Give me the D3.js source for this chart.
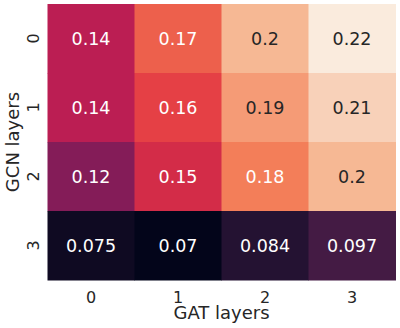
<!DOCTYPE html>
<html>
<head>
<meta charset="utf-8">
<script src="https://cdn.jsdelivr.net/npm/d3@7"></script>
<style>
  body { margin: 0; background: #fff; }
  text { font-family: "DejaVu Sans", sans-serif; }
</style>
</head>
<body>
<div id="chart"></div>
<script>
// heatmap of scores, GCN layers (rows) x GAT layers (cols)
var gatLayers = ["0", "1", "2", "3"];
var gcnLayers = ["0", "1", "2", "3"];
var row0 = [0.14, 0.17, 0.2, 0.22];
var row1 = [0.14, 0.16, 0.19, 0.21];
var row2 = [0.12, 0.15, 0.18, 0.2];
var row3 = [0.075, 0.07, 0.084, 0.097];
var rows = [row0, row1, row2, row3];

// seaborn "rocket" colormap stops
var rocket = ["#03051a", "#35193e", "#701f57", "#ad1759", "#e13342", "#f37651", "#f6b48f", "#faebdd"];

var width = 400, height = 328;
var margin = {top: 4, right: 4.5, bottom: 48, left: 47.5};

var svg = d3.select("#chart")
  .append("svg")
    .attr("width", width)
    .attr("height", height);

var x = d3.scaleBand()
    .domain(gatLayers)
    .range([margin.left, width - margin.right]);
var y = d3.scaleBand()
    .domain(gcnLayers)
    .range([margin.top, height - margin.bottom]);

var cells = [];
rows.forEach(function(r, i) {
  r.forEach(function(v, j) {
    cells.push({row: gcnLayers[i], col: gatLayers[j], value: v});
  });
});

var vmin = d3.min(cells, d => d.value), vmax = d3.max(cells, d => d.value);
var color = d3.scaleLinear()
    .domain(d3.range(rocket.length).map(i => vmin + (vmax - vmin) * i / (rocket.length - 1)))
    .range(rocket)
    .interpolate(d3.interpolateRgb);

// text colour like seaborn: dark on light cells
function lum(c) {
  var rgb = d3.rgb(c);
  var f = v => { v = v / 255; return v <= 0.03928 ? v / 12.92 : Math.pow((v + 0.055) / 1.055, 2.4); };
  return 0.2126 * f(rgb.r) + 0.7152 * f(rgb.g) + 0.0722 * f(rgb.b);
}

svg.selectAll(".cell")
    .data(cells)
  .enter().append("rect")
    .attr("class", "cell")
    .attr("x", d => x(d.col))
    .attr("y", d => y(d.row))
    .attr("width", x.bandwidth() + 0.5)
    .attr("height", y.bandwidth() + 0.5)
    .attr("fill", d => color(d.value));

svg.selectAll(".annot")
    .data(cells)
  .enter().append("text")
    .attr("class", "annot")
    .attr("x", d => x(d.col) + x.bandwidth() / 2)
    .attr("y", d => y(d.row) + y.bandwidth() / 2)
    .attr("dy", "0.36em")
    .attr("text-anchor", "middle")
    .style("font-size", "17.5px")
    .attr("fill", d => lum(color(d.value)) > 0.408 ? "#262626" : "#ffffff")
    .text(d => d3.format(".2~g")(d.value));

// x axis
var xAxis = svg.append("g")
    .attr("transform", "translate(0," + (height - margin.bottom) + ")")
    .call(d3.axisBottom(x).tickSize(0).tickPadding(12));
xAxis.select(".domain").remove();
xAxis.selectAll("text")
    .style("font-size", "16px")
    .style("font-family", "DejaVu Sans")
    .attr("fill", "#262626");

// y axis, labels rotated
var yAxis = svg.append("g")
    .attr("transform", "translate(" + margin.left + ",0)")
    .call(d3.axisLeft(y).tickSize(0).tickPadding(0));
yAxis.select(".domain").remove();
yAxis.selectAll("text")
    .style("font-size", "16px")
    .style("font-family", "DejaVu Sans")
    .attr("fill", "#262626")
    .attr("x", 0).attr("dy", 0)
    .attr("text-anchor", "middle")
    .attr("transform", "translate(-8.5,0) rotate(-90)");

svg.append("text")
    .attr("x", (margin.left + width - margin.right) / 2)
    .attr("y", 318.5)
    .attr("text-anchor", "middle")
    .style("font-size", "18px")
    .attr("fill", "#262626")
    .text("GAT layers");

svg.append("text")
    .attr("transform", "translate(19," + ((margin.top + height - margin.bottom) / 2) + ") rotate(-90)")
    .attr("text-anchor", "middle")
    .style("font-size", "18px")
    .attr("fill", "#262626")
    .text("GCN layers");
</script>
</body>
</html>
